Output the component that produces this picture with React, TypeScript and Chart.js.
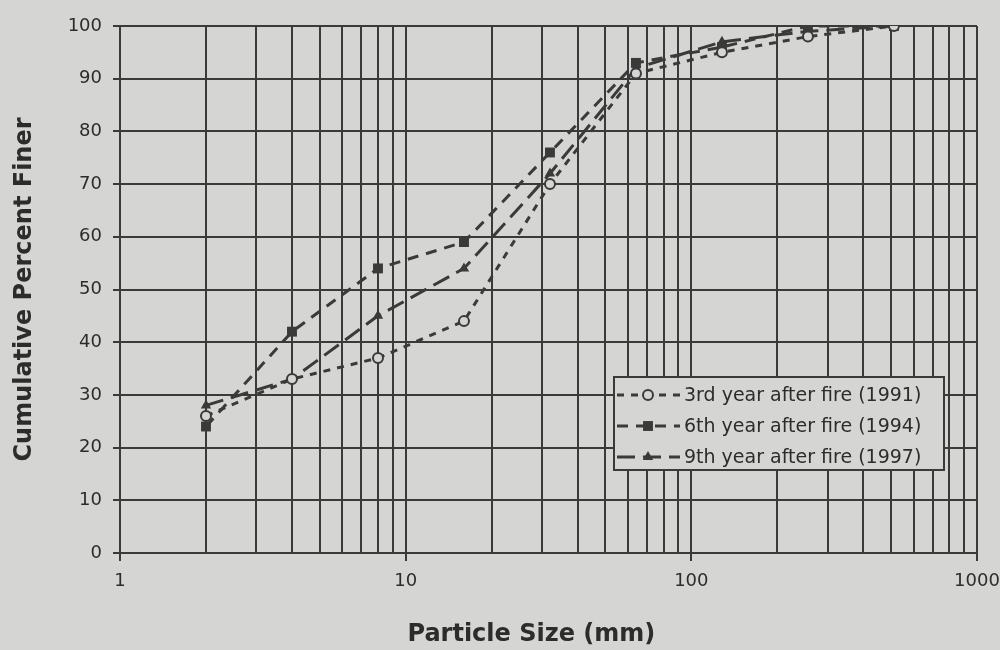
import React, { useEffect, useRef } from 'react';
import { Chart, registerables } from 'chart.js';

Chart.register(...registerables);

// ---- data ----
const SIZES_MM = [2, 4, 8, 16, 32, 64, 128, 256, 512];
const YEAR_1991 = [26, 33, 37, 44, 70, 91, 95, 98, 100];
const YEAR_1994 = [24, 42, 54, 59, 76, 93, 96, 100, 100];
const YEAR_1997 = [28, 33, 45, 54, 72, 92, 97, 99, 100];
const SERIES_LABELS = [
  '3rd year after fire (1991)',
  '6th year after fire (1994)',
  '9th year after fire (1997)',
];
const X_GRID_VALUES = [
  1, 2, 3, 4, 5, 6, 7, 8, 9,
  10, 20, 30, 40, 50, 60, 70, 80, 90,
  100, 200, 300, 400, 500, 600, 700, 800, 900,
  1000,
];
const X_TICK_LABELS = ['1', '10', '100', '1000'];
const X_TITLE = 'Particle Size (mm)';
const Y_TITLE = 'Cumulative Percent Finer';

// ---- styles ----
const BG = '#d5d5d3';
const INK = '#3a3a3a';
const TEXT = '#2c2c2c';
const FONT = '"DejaVu Sans", sans-serif';

const legendPlugin = {
  id: 'paperLegend',
  afterDatasetsDraw(chart: any) {
    const { ctx, chartArea } = chart;
    const w = 330;
    const h = 93;
    const left = chartArea.right - 363;
    const top = chartArea.bottom - 176;
    ctx.save();
    ctx.fillStyle = BG;
    ctx.fillRect(left, top, w, h);
    ctx.strokeStyle = INK;
    ctx.lineWidth = 2;
    ctx.strokeRect(left, top, w, h);
    chart.data.datasets.forEach((ds: any, i: number) => {
      const y = top + 18 + i * 31;
      ctx.strokeStyle = INK;
      ctx.lineWidth = 3;
      ctx.setLineDash(ds.borderDash || []);
      ctx.beginPath();
      ctx.moveTo(left + 3, y);
      ctx.lineTo(left + 66, y);
      ctx.stroke();
      ctx.setLineDash([]);
      const mx = left + 34;
      ctx.lineWidth = 2;
      ctx.fillStyle = ds.pointBackgroundColor;
      ctx.beginPath();
      if (ds.pointStyle === 'circle') {
        ctx.arc(mx, y, ds.pointRadius, 0, Math.PI * 2);
        ctx.fill();
        ctx.stroke();
      } else if (ds.pointStyle === 'rect') {
        const s = ds.pointRadius * Math.SQRT1_2;
        ctx.rect(mx - s, y - s, 2 * s, 2 * s);
        ctx.fill();
      } else {
        const r = ds.pointRadius;
        ctx.moveTo(mx, y - r);
        ctx.lineTo(mx + r * 0.866, y + r * 0.5);
        ctx.lineTo(mx - r * 0.866, y + r * 0.5);
        ctx.closePath();
        ctx.fill();
      }
      ctx.fillStyle = TEXT;
      ctx.font = `19px ${FONT}`;
      ctx.textAlign = 'left';
      ctx.textBaseline = 'middle';
      ctx.fillText(ds.label, left + 70, y + 1);
    });
    ctx.restore();
  },
  afterDraw(chart: any) {
    const { ctx, chartArea } = chart;
    ctx.save();
    ctx.fillStyle = TEXT;
    ctx.font = `bold 24px ${FONT}`;
    ctx.textAlign = 'center';
    ctx.textBaseline = 'middle';
    const cx = chartArea.left + (chartArea.right - chartArea.left) * 0.48;
    ctx.fillText(X_TITLE, cx, chartArea.bottom + 82);
    ctx.restore();
  },
};

export default function App() {
  const canvasRef = useRef<HTMLCanvasElement | null>(null);

  useEffect(() => {
    if (!canvasRef.current) return;
    const mk = (vals: number[]) => SIZES_MM.map((x, i) => ({ x, y: vals[i] }));
    const chart = new Chart(canvasRef.current, {
      type: 'line',
      data: {
        datasets: [
          {
            label: SERIES_LABELS[0],
            data: mk(YEAR_1991),
            borderColor: INK,
            borderWidth: 3,
            borderDash: [7, 7],
            pointStyle: 'circle',
            pointRadius: 5,
            pointBorderWidth: 2,
            pointBackgroundColor: BG,
            pointBorderColor: INK,
            fill: false,
            tension: 0,
          },
          {
            label: SERIES_LABELS[1],
            data: mk(YEAR_1994),
            borderColor: INK,
            borderWidth: 3,
            borderDash: [11, 8],
            pointStyle: 'rect',
            pointRadius: 7,
            pointBorderWidth: 0,
            pointBackgroundColor: INK,
            pointBorderColor: INK,
            fill: false,
            tension: 0,
          },
          {
            label: SERIES_LABELS[2],
            data: mk(YEAR_1997),
            borderColor: INK,
            borderWidth: 3,
            borderDash: [18, 8],
            pointStyle: 'triangle',
            pointRadius: 6,
            pointBorderWidth: 0,
            pointBackgroundColor: INK,
            pointBorderColor: INK,
            fill: false,
            tension: 0,
          },
        ] as any,
      },
      options: {
        animation: false,
        responsive: false,
        maintainAspectRatio: false,
        layout: { padding: { left: 0, right: 23, top: 26, bottom: 0 } },
        plugins: {
          legend: { display: false },
          tooltip: { enabled: false },
        },
        scales: {
          x: {
            type: 'logarithmic',
            min: 1,
            max: 1000,
            afterBuildTicks: (scale: any) => {
              scale.ticks = X_GRID_VALUES.map((v) => ({ value: v }));
            },
            afterFit: (scale: any) => {
              scale.height = 97;
              scale.paddingLeft = 0;
              scale.paddingRight = 0;
            },
            ticks: {
              autoSkip: false,
              maxRotation: 0,
              minRotation: 0,
              padding: 10,
              color: TEXT,
              font: { family: FONT, size: 18 },
              callback: (value: any) =>
                X_TICK_LABELS.includes(String(value)) ? String(value) : '',
            },
            grid: {
              color: INK,
              lineWidth: 2,
              tickLength: 8,
              tickColor: (ctx: any) =>
                ctx.tick && X_TICK_LABELS.includes(String(ctx.tick.value))
                  ? INK
                  : 'rgba(0,0,0,0)',
            },
            border: { display: true, color: INK, width: 2 },
            title: { display: false },
          },
          y: {
            type: 'linear',
            min: 0,
            max: 100,
            afterFit: (scale: any) => {
              scale.width = 120;
              scale.paddingTop = 0;
              scale.paddingBottom = 0;
            },
            ticks: {
              stepSize: 10,
              padding: 11,
              color: TEXT,
              font: { family: FONT, size: 18 },
            },
            grid: {
              color: INK,
              lineWidth: 2,
              tickLength: 7,
              tickColor: INK,
            },
            border: { display: true, color: INK, width: 2 },
            title: {
              display: true,
              text: Y_TITLE,
              color: TEXT,
              font: { family: FONT, size: 24, weight: 'bold' },
              padding: { top: 10, bottom: 0 },
            },
          },
        },
      } as any,
      plugins: [legendPlugin],
    });
    return () => chart.destroy();
  }, []);

  return (
    <div
      style={{
        position: 'absolute',
        left: 0,
        top: 0,
        width: 1000,
        height: 650,
        background: BG,
        overflow: 'hidden',
      }}
    >
      <canvas ref={canvasRef} width={1000} height={650} style={{ display: 'block' }} />
    </div>
  );
}
